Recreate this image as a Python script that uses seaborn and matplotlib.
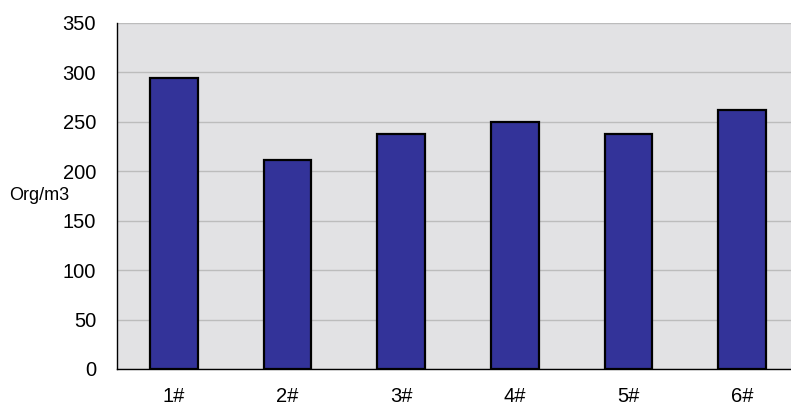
import numpy as np
import pandas as pd
import matplotlib
matplotlib.use("Agg")
import matplotlib.pyplot as plt
import seaborn as sns

# data
sites = ["1#", "2#", "3#", "4#", "5#", "6#"]
density = [294, 211, 238, 250, 238, 262]
y_ticks = [0, 50, 100, 150, 200, 250, 300, 350]

df = pd.DataFrame({"Site": sites, "Density": density})

sns.set_style("white")
plt.rcParams["font.family"] = ["Liberation Sans", "DejaVu Sans"]

fig = plt.figure(figsize=(7.91, 4.08), dpi=100)
ax = fig.add_axes([117 / 791, 39 / 408, 682 / 791, 346 / 408])
ax.set_facecolor("#e2e2e4")

sns.barplot(data=df, x="Site", y="Density", color="#333399", saturation=1,
            edgecolor="black", linewidth=1.6, width=0.42, ax=ax, zorder=3)

ax.set_ylim(0, 350)
ax.set_xlim(-0.5, len(sites) - 0.5)
ax.set_yticks(y_ticks)
ax.yaxis.grid(True, color="#bcbcbc", linewidth=1.0, zorder=0)
ax.set_axisbelow(True)

# category labels centred, tick marks between categories
ax.set_xticks(range(len(sites)))
ax.set_xticklabels(sites)
ax.set_xticks(np.arange(-0.5, len(sites), 1.0), minor=True)
ax.tick_params(axis="x", which="major", length=0, pad=13, labelsize=14.5, labelcolor="black")
ax.tick_params(axis="x", which="minor", length=6, width=1, color="black", direction="out")
ax.tick_params(axis="y", length=6, width=1, color="black", direction="out", pad=9,
               labelsize=14.5, labelcolor="black")

for side in ["top", "right"]:
    ax.spines[side].set_visible(False)
for side in ["left", "bottom"]:
    ax.spines[side].set_color("black")
    ax.spines[side].set_linewidth(1.0)

ax.set_xlabel("")
ax.set_ylabel("Org/m3", rotation=0, fontsize=13, labelpad=0, color="black")
ax.yaxis.set_label_coords(-0.158, 0.5)
ax.yaxis.label.set_horizontalalignment("left")
ax.yaxis.label.set_verticalalignment("center")

fig.savefig("out.png", dpi=100)
